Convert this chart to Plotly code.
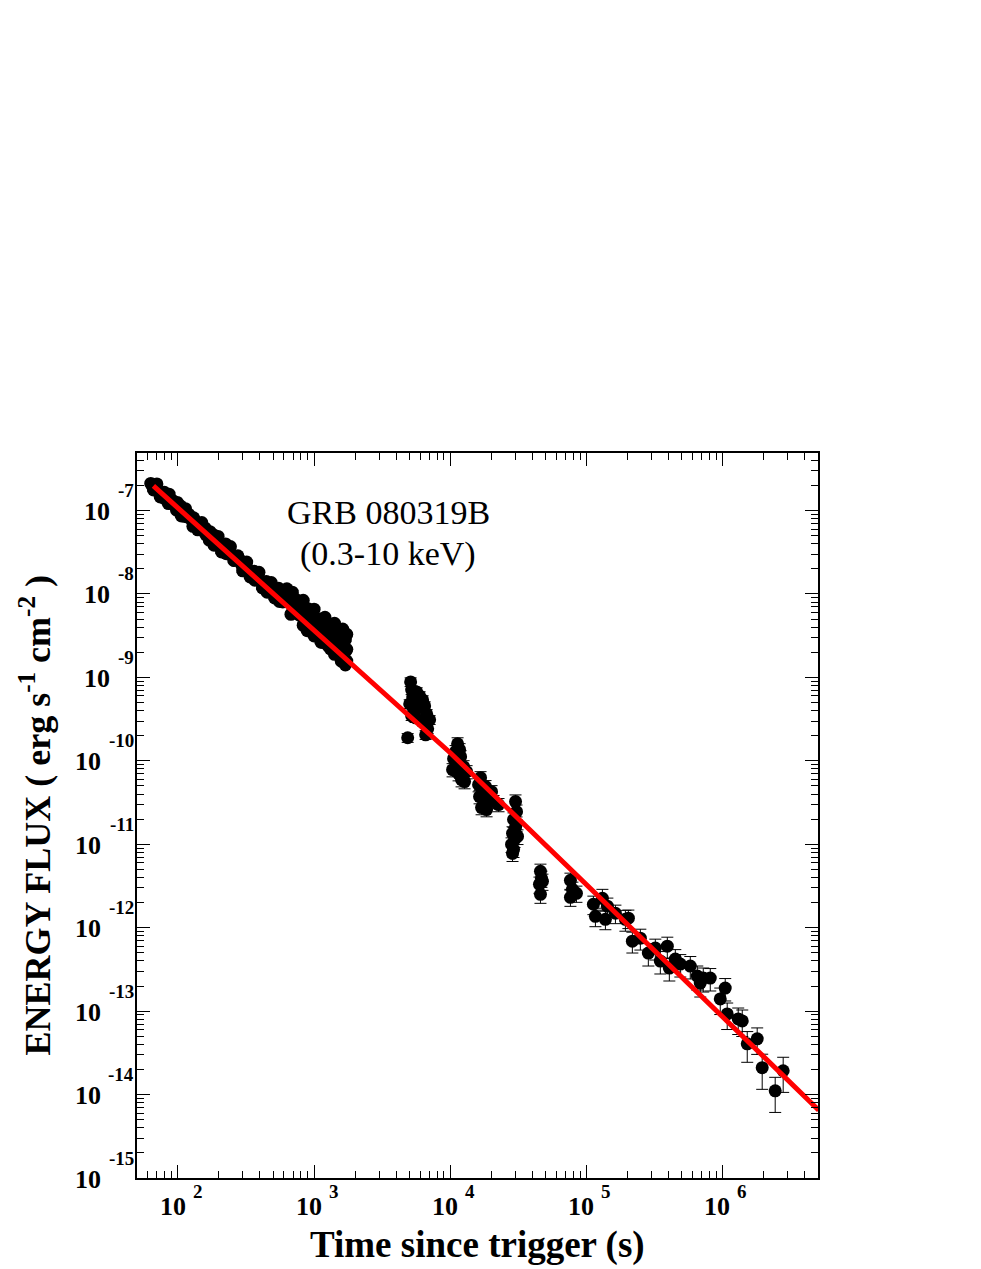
import plotly.graph_objects as go

# GRB 080319B X-ray afterglow, 0.3-10 keV energy flux (erg s^-1 cm^-2) vs time (s)

# early steep part, continuous coverage up to ~1.7 ks
t_early = [63.1, 66.1, 69.2, 74.1, 79.4, 85.1, 91.2, 97.7, 104.7, 112.2,
           120.2, 128.8, 138.0, 147.9, 158.5, 169.8, 182.0, 195.0, 208.9, 223.9,
           239.9, 257.0, 275.4, 295.1, 316.2, 338.8, 363.1, 389.0, 416.9, 446.7,
           478.6, 512.9, 549.5, 588.8, 631.0, 676.1, 724.4, 776.2, 831.8, 891.3,
           955.0, 1000, 1047, 1096, 1148, 1202, 1259, 1318, 1380, 1445,
           1514, 1549, 1585, 1622, 1660, 1698, 1698, 1738, 1738, 1738,
           65.3, 70.0, 75.0, 80.4, 86.1, 92.3, 98.9, 105.9, 113.5, 121.6,
           130.3, 139.6, 149.6, 160.3, 171.8, 184.1, 197.2, 211.3, 226.5, 242.7,
           260.0, 278.6, 298.5, 319.9, 342.8, 367.3, 393.6, 421.7, 451.9, 484.2,
           518.8, 555.9, 595.7, 638.3, 683.9, 732.8, 785.2, 841.4, 901.6, 966.1,
           1035, 1109, 1189, 1274, 1365, 1462, 1567, 1679,
           631.0, 691.8, 758.6, 831.8, 912.0, 1000, 1096, 1202, 1288, 1413,
           1514, 1622, 1698, 1585, 1413, 1122, 891.3]
f_early = [2.11e-7, 1.76e-7, 1.97e-7, 1.45e-7, 1.65e-7, 1.21e-7, 1.32e-7, 1.01e-7, 1.13e-7, 8.47e-8,
           8.99e-8, 6.46e-8, 7.18e-8, 6.05e-8, 6.14e-8, 4.41e-8, 5.13e-8, 4.23e-8, 3.18e-8, 3.97e-8,
           3.20e-8, 2.52e-8, 2.86e-8, 2.20e-8, 2.23e-8, 1.60e-8, 1.87e-8, 1.50e-8, 1.18e-8, 1.41e-8,
           1.14e-8, 8.95e-9, 1.17e-8, 8.02e-9, 1.02e-8, 5.70e-9, 8.55e-9, 5.60e-9, 4.21e-9, 6.31e-9,
           4.33e-9, 3.14e-9, 4.88e-9, 3.61e-9, 2.62e-9, 4.27e-9, 3.17e-9, 2.19e-9, 3.82e-9, 2.71e-9,
           1.84e-9, 3.71e-9, 2.65e-9, 1.95e-9, 1.57e-9, 2.82e-9, 2.04e-9, 3.28e-9, 2.17e-9, 1.57e-9,
           1.91e-7, 2.08e-7, 1.67e-7, 1.38e-7, 1.57e-7, 1.18e-7, 1.25e-7, 8.59e-8, 1.05e-7, 8.07e-8,
           8.18e-8, 5.87e-8, 7.16e-8, 5.14e-8, 5.58e-8, 3.83e-8, 4.89e-8, 3.67e-8, 3.03e-8, 3.69e-8,
           2.53e-8, 2.69e-8, 1.89e-8, 2.41e-8, 1.85e-8, 1.46e-8, 1.82e-8, 1.40e-8, 1.05e-8, 1.37e-8,
           1.06e-8, 8.13e-9, 1.06e-8, 8.00e-9, 5.87e-9, 8.61e-9, 6.32e-9, 4.44e-9, 6.65e-9, 4.78e-9,
           3.35e-9, 5.02e-9, 3.61e-9, 2.36e-9, 3.54e-9, 2.43e-9, 3.33e-9, 1.61e-9,
           1.15e-8, 1.05e-8, 7.29e-9, 8.39e-9, 5.83e-9, 6.56e-9, 4.45e-9, 5.25e-9, 3.44e-9, 4.44e-9,
           3.05e-9, 3.80e-9, 1.41e-9, 1.56e-9, 1.89e-9, 2.65e-9, 3.63e-9]

# orbit 2 (~5-7 ks)
t_orb2 = [4870, 5120, 5210, 5300, 5040, 5390, 5210, 5670, 5960,
          6270, 6490, 6710, 6380, 6830, 6600, 7060, 5860, 5570]
f_orb2 = [1.89e-10, 8.81e-10, 7.06e-10, 5.83e-10, 4.81e-10, 4.08e-10, 3.46e-10, 6.70e-10, 6.00e-10,
          5.37e-10, 4.55e-10, 3.66e-10, 2.93e-10, 2.42e-10, 2.05e-10, 3.10e-10, 4.43e-10, 3.27e-10]

# orbit 3 (~1.1e4 s)
t_orb3 = [11330, 11720, 10950, 11920, 10590, 11140, 12540, 10410, 13190, 11520, 12120, 12750]
f_orb3 = [1.60e-10, 1.36e-10, 1.29e-10, 1.12e-10, 1.06e-10, 8.98e-11, 8.50e-11, 7.83e-11,
          7.41e-11, 7.01e-11, 5.94e-11, 5.63e-11]

# orbit 4 (~1.7e4 s)
t_orb4 = [16710, 16160, 18180, 17290, 20120, 16430, 19130, 17880, 20820, 22650, 17000, 18500]
f_orb4 = [6.28e-11, 5.18e-11, 4.91e-11, 4.39e-11, 4.27e-11, 3.72e-11, 3.72e-11, 3.25e-11,
          3.25e-11, 2.99e-11, 2.75e-11, 2.60e-11]

# orbit 5 (~3e4 s)
t_orb5 = [30190, 30710, 29190, 30710, 30190, 28700, 31230, 29690, 28220, 29190, 28700]
f_orb5 = [3.25e-11, 2.46e-11, 1.98e-11, 1.77e-11, 1.59e-11, 1.35e-11, 1.24e-11, 1.14e-11,
          9.94e-12, 8.67e-12, 7.77e-12]

# ~4.6e4 s
t_orb6 = [46030, 46820, 45260, 47620, 46030]
f_orb6 = [4.73e-12, 3.90e-12, 3.31e-12, 3.59e-12, 2.51e-12]

# ~8e4 s
t_orb7 = [76420, 79070, 76420, 84600]
f_orb7 = [3.69e-12, 2.88e-12, 2.31e-12, 2.58e-12]

# relative errors (%) of the groups above
err_pct = [4, 12, 18, 18, 20, 22, 22]

# late decay, > 1e5 s
t_late = [112700, 116600, 131300, 138100, 142800, 163600, 193600, 203700, 217900, 249400,
          285500, 321400, 349700, 393600, 407200, 450600, 490300, 580500, 653500, 687300,
          723000, 813900, 963700, 1.048e6, 1.084e6, 1.306e6, 1.398e6, 1.521e6, 1.800e6, 1.959e6,
          2.441e6, 2.794e6]
f_late = [1.91e-12, 1.37e-12, 2.25e-12, 1.26e-12, 1.81e-12, 1.49e-12, 1.26e-12, 1.30e-12, 6.90e-13, 7.49e-13,
          4.96e-13, 5.69e-13, 3.98e-13, 6.01e-13, 3.28e-13, 4.20e-13, 3.66e-13, 3.47e-13, 2.63e-13, 2.17e-13,
          2.49e-13, 2.49e-13, 1.40e-13, 1.89e-13, 9.26e-14, 8.07e-14, 7.64e-14, 4.06e-14, 4.66e-14, 2.10e-14,
          1.11e-14, 1.93e-14]
late_err_pct = [25, 25, 28, 25, 25, 25, 28, 25, 28, 28,
                30, 28, 30, 28, 30, 30, 30, 30, 32, 32,
                32, 30, 35, 30, 35, 35, 35, 40, 35, 45,
                45, 45]

# power-law fit
fit_t = [66, 1e2, 1e3, 1e4, 1e5, 1e6, 5.1e6]
fit_f = [1.97e-7, 1.07e-7, 3.69e-9, 1.25e-10, 3.29e-12, 8.65e-14, 6.5e-15]

x_decades = [2, 3, 4, 5, 6]
y_decades = [-15, -14, -13, -12, -11, -10, -9, -8, -7]

FONT = "Liberation Serif"
BLACK = "black"
marker = dict(color=BLACK, size=13, line=dict(width=0))

fig = go.Figure()

groups = [(t_early, f_early), (t_orb2, f_orb2), (t_orb3, f_orb3), (t_orb4, f_orb4),
          (t_orb5, f_orb5), (t_orb6, f_orb6), (t_orb7, f_orb7)]
for (t, f), pct in zip(groups, err_pct):
    fig.add_trace(go.Scatter(
        x=t, y=f, mode="markers", marker=marker,
        error_y=dict(type="percent", value=pct, color=BLACK, thickness=1, width=6),
        showlegend=False))

late_err = [f * p / 100 for f, p in zip(f_late, late_err_pct)]
fig.add_trace(go.Scatter(
    x=t_late, y=f_late, mode="markers", marker=marker,
    error_y=dict(type="data", array=late_err, color=BLACK, thickness=1, width=6),
    showlegend=False))

fig.add_trace(go.Scatter(x=fit_t, y=fit_f, mode="lines",
                         line=dict(color="#ff0000", width=5), showlegend=False))

x_minor = [m * 10 ** k for k in range(1, 7) for m in range(2, 10)]
y_minor = [m * 10.0 ** k for k in range(-15, -6) for m in range(2, 10)]

axis_common = dict(
    showline=True, linecolor=BLACK, linewidth=2, mirror="allticks",
    ticks="inside", ticklen=13, tickwidth=1, tickcolor=BLACK,
    showgrid=False, zeroline=False, showticklabels=False, tickmode="array",
)

fig.update_xaxes(
    type="log", range=[1.699, 6.702],
    tickvals=[10 ** d for d in x_decades],
    minor=dict(tickmode="array", tickvals=x_minor, ticks="inside", ticklen=7,
               tickwidth=1, tickcolor=BLACK, showgrid=False),
    **axis_common,
)
fig.update_yaxes(
    type="log", range=[-15, -6.311],
    tickvals=[10.0 ** d for d in y_decades],
    minor=dict(tickmode="array", tickvals=y_minor, ticks="inside", ticklen=7,
               tickwidth=1, tickcolor=BLACK, showgrid=False),
    **axis_common,
)

# ROOT-style "10^n" tick labels: base and raised exponent drawn separately
base_font = dict(family=FONT, size=26, color=BLACK)
exp_font = dict(family=FONT, size=19, color=BLACK)
lab = dict(showarrow=False, borderpad=0, borderwidth=0)

for d in x_decades:
    fig.add_annotation(text="<b>10</b>", xref="x", yref="paper", x=d, y=0,
                       xanchor="right", yanchor="middle", xshift=8, yshift=-28,
                       font=base_font, **lab)
    fig.add_annotation(text="<b>%d</b>" % d, xref="x", yref="paper", x=d, y=0,
                       xanchor="left", yanchor="middle", xshift=15, yshift=-13,
                       font=exp_font, **lab)

for d in y_decades:
    s = "%d" % d
    w = 19 * (0.333 + 0.5 * (len(s) - 1))
    fig.add_annotation(text="<b>10</b>", xref="paper", yref="y", x=0, y=d,
                       xanchor="right", yanchor="middle", xshift=-(11 + w), yshift=-1,
                       font=base_font, **lab)
    fig.add_annotation(text="<b>%s</b>" % s, xref="paper", yref="y", x=0, y=d,
                       xanchor="right", yanchor="middle", xshift=-3, yshift=20,
                       font=exp_font, **lab)

# axis titles
fig.add_annotation(text="<b>Time since trigger (s)</b>", xref="paper", yref="paper",
                   x=0.5, y=0, xanchor="center", yanchor="middle", yshift=-67,
                   font=dict(family=FONT, size=37, color=BLACK), **lab)
fig.add_annotation(text="<b>ENERGY FLUX ( erg s<sup>-1</sup> cm<sup>-2</sup> )</b>",
                   xref="paper", yref="paper", x=0, y=0.5, textangle=-90,
                   xanchor="center", yanchor="middle", xshift=-102,
                   font=dict(family=FONT, size=36, color=BLACK), **lab)

fig.add_annotation(text="GRB 080319B", xref="paper", yref="paper", x=0.369, y=0.918,
                   xanchor="center", yanchor="middle", showarrow=False,
                   font=dict(family=FONT, size=34, color=BLACK))
fig.add_annotation(text="(0.3-10 keV)", xref="paper", yref="paper", x=0.369, y=0.861,
                   xanchor="center", yanchor="middle", showarrow=False,
                   font=dict(family=FONT, size=34, color=BLACK))

# page body adds an 8px offset, so the figure is 8px smaller than the window
fig.update_layout(
    width=973, height=1261,
    margin=dict(l=129, r=163, t=445, b=91, autoexpand=False),
    paper_bgcolor="white", plot_bgcolor="white",
    font=dict(family=FONT, color=BLACK),
)

fig.write_html("out.html")
